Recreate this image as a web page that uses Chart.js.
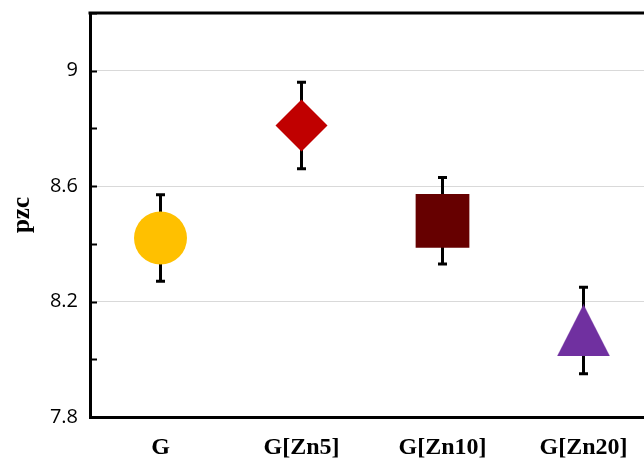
<!DOCTYPE html>
<html>
<head>
<meta charset="utf-8">
<script src="https://cdn.jsdelivr.net/npm/chart.js@4.4.0/dist/chart.umd.min.js"></script>
<style>
  html, body { margin: 0; padding: 0; background: #fff; overflow: hidden; }
  #wrap { width: 644px; height: 460px; overflow: hidden; }
</style>
</head>
<body>
<div id="wrap"><canvas id="chart" width="654" height="460"></canvas></div>
<script>
var samples = ['G', 'G[Zn5]', 'G[Zn10]', 'G[Zn20]'];
var pzc = [8.42, 8.81, 8.48, 8.10];
var pzcErr = [0.15, 0.15, 0.15, 0.15];
var yTicks = [7.8, 8.2, 8.6, 9.0];

var markerColors = ['#FFC000', '#C00000', '#660000', '#7030A0'];

// triangle marker like Excel's (a bit wider than Chart.js' equilateral one)
var tri = document.createElement('canvas');
tri.width = 53;
tri.height = 52;
var tctx = tri.getContext('2d');
tctx.fillStyle = markerColors[3];
tctx.beginPath();
tctx.moveTo(26.5, 0);
tctx.lineTo(53, 52);
tctx.lineTo(0, 52);
tctx.closePath();
tctx.fill();

var markerStyles = ['circle', 'rectRot', 'rect', tri];
var markerRadius = [26.5, 26, 38, 26];

var errorBars = {
    id: 'errorBars',
    beforeDatasetsDraw: function(chart) {
        var ctx = chart.ctx;
        var x = chart.scales.x, y = chart.scales.y;
        ctx.save();
        ctx.strokeStyle = '#000';
        ctx.lineWidth = 3;
        for (var i = 0; i < pzc.length; i++) {
            var px = x.getPixelForValue(i);
            var top = y.getPixelForValue(pzc[i] + pzcErr[i]);
            var bot = y.getPixelForValue(pzc[i] - pzcErr[i]);
            ctx.beginPath();
            ctx.moveTo(px, top);
            ctx.lineTo(px, bot);
            ctx.moveTo(px - 4.5, top);
            ctx.lineTo(px + 4.5, top);
            ctx.moveTo(px - 4.5, bot);
            ctx.lineTo(px + 4.5, bot);
            ctx.stroke();
        }
        ctx.restore();
    },
    afterDraw: function(chart) {
        var ctx = chart.ctx;
        var a = chart.chartArea;
        var y = chart.scales.y;
        ctx.save();
        ctx.strokeStyle = '#000';
        // top frame line
        ctx.lineWidth = 3;
        ctx.beginPath();
        ctx.moveTo(a.left - 1.5, a.top);
        ctx.lineTo(a.right, a.top);
        ctx.stroke();
        // inside tick marks, major and minor
        ctx.lineWidth = 2;
        y.ticks.forEach(function(t) {
            var py = Math.round(y.getPixelForValue(t.value)) + 0.5;
            ctx.beginPath();
            ctx.moveTo(a.left, py);
            ctx.lineTo(a.left + 7, py);
            ctx.stroke();
        });
        ctx.restore();
    }
};

function isMajor(v) {
    return yTicks.some(function(t) { return Math.abs(t - v) < 1e-6; });
}

new Chart(document.getElementById('chart').getContext('2d'), {
    type: 'line',
    data: {
        labels: samples,
        datasets: [{
            data: pzc,
            showLine: false,
            pointStyle: markerStyles,
            pointRadius: markerRadius,
            pointHoverRadius: markerRadius,
            pointBackgroundColor: markerColors,
            pointBorderColor: markerColors,
            pointBorderWidth: 0
        }]
    },
    options: {
        responsive: false,
        animation: false,
        layout: { autoPadding: false, padding: 0 },
        plugins: {
            legend: { display: false },
            tooltip: { enabled: false }
        },
        scales: {
            x: {
                offset: true,
                grid: { display: false, drawTicks: false },
                border: { display: true, color: '#000', width: 3 },
                ticks: {
                    padding: 16,
                    color: '#000',
                    font: { family: '"Liberation Serif", "Times New Roman", serif', size: 24, weight: 'bold' }
                },
                afterFit: function(s) { s.height = 43; }
            },
            y: {
                min: 7.8,
                max: 9.2,
                grid: {
                    drawTicks: false,
                    color: function(c) {
                        if (!c.tick || c.tick.value === 7.8) return 'rgba(0,0,0,0)';
                        return isMajor(c.tick.value) ? '#d9d9d9' : 'rgba(0,0,0,0)';
                    },
                    lineWidth: 1
                },
                border: { display: true, color: '#000', width: 3 },
                ticks: {
                    stepSize: 0.2,
                    includeBounds: false,
                    autoSkip: false,
                    padding: 12,
                    color: '#000',
                    font: { family: '"Open Sans", "Liberation Sans", sans-serif', size: 20 },
                    callback: function(v) {
                        return isMajor(v) ? String(Number(v.toFixed(1))) : '';
                    }
                },
                title: {
                    display: true,
                    text: 'pzc',
                    color: '#000',
                    padding: { top: 8, bottom: 0 },
                    font: { family: '"Liberation Serif", "Times New Roman", serif', size: 25, weight: 'bold' }
                },
                afterFit: function(s) {
                    s.width = 90;
                    s.paddingTop = 13;
                }
            }
        }
    },
    plugins: [errorBars]
});
</script>
</body>
</html>
